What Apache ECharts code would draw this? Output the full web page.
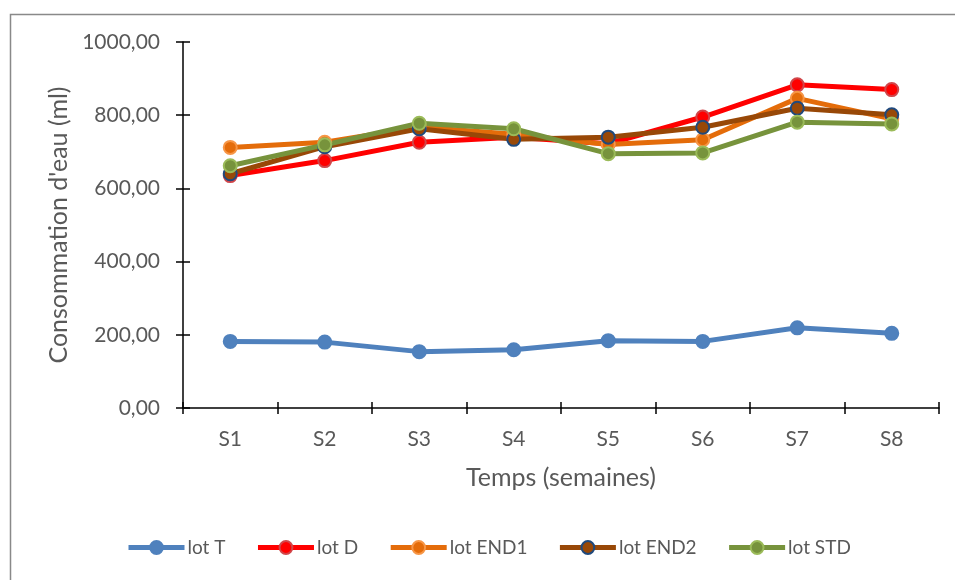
<!DOCTYPE html>
<html>
<head>
<meta charset="utf-8">
<script src="https://cdn.jsdelivr.net/npm/echarts@6/dist/echarts.min.js"></script>
<style>html,body{margin:0;padding:0;background:#fff}#c{width:955px;height:580px}</style>
</head>
<body>
<div id="c"></div>
<script>
var categories = ['S1','S2','S3','S4','S5','S6','S7','S8'];
var lotT    = [182, 180, 154, 159, 184, 182, 219, 204];
var lotD    = [635, 676, 726, 740, 722, 795, 883, 870];
var lotEND1 = [712, 726, 768, 748, 720, 733, 846, 790];
var lotEND2 = [640, 714, 763, 734, 740, 767, 819, 801];
var lotSTD  = [662, 719, 778, 763, 695, 697, 781, 776];
var yTicks  = [0, 200, 400, 600, 800, 1000];

var FONT = 'Lato';
var chart = echarts.init(document.getElementById('c'), null, {renderer: 'canvas'});

function mk(name, data, line, fill, border) {
  return {
    name: name, type: 'line', data: data, xAxisIndex: 0, yAxisIndex: 0,
    symbol: 'circle', symbolSize: 13,
    lineStyle: {color: line, width: 5},
    itemStyle: {color: fill, borderColor: border, borderWidth: 2},
    emphasis: {disabled: true},
    animation: false, z: 2
  };
}

var grid = {left: 183, right: 16, top: 42, bottom: 172};
var labelStyle = {color: '#595959', fontFamily: FONT, fontSize: 21};

chart.setOption({
  backgroundColor: '#fff',
  animation: false,
  graphic: [{
    type: 'rect', left: 8, top: 12,
    shape: {width: 970, height: 600},
    style: {fill: 'none', stroke: '#898989', lineWidth: 1.5},
    silent: true, z: -1
  }],
  grid: grid,
  legend: {
    left: 126, top: 538, padding: 0,
    itemWidth: 56, itemHeight: 16, itemGap: 30,
    lineStyle: {width: 5},
    itemStyle: {borderWidth: 'inherit'},
    textStyle: {color: '#595959', fontFamily: FONT, fontSize: 19, padding: [0, 0, 0, -2]},
    data: ['lot T', 'lot D', 'lot END1', 'lot END2', 'lot STD']
  },
  xAxis: [{
    type: 'category', data: categories, boundaryGap: true,
    name: 'Temps (semaines)', nameLocation: 'middle', nameGap: 57,
    nameTextStyle: {color: '#595959', fontFamily: FONT, fontSize: 25},
    axisLine: {lineStyle: {color: '#000', width: 1.5}},
    axisTick: {show: true, length: 6, lineStyle: {color: '#000', width: 1.5}},
    axisLabel: Object.assign({margin: 21}, labelStyle),
    splitLine: {show: false}
  }, {
    type: 'category', data: categories, boundaryGap: true, position: 'bottom',
    axisLine: {show: false},
    axisTick: {show: true, inside: true, length: 6, lineStyle: {color: '#000', width: 1.5}},
    axisLabel: {show: false}, splitLine: {show: false}
  }],
  yAxis: [{
    type: 'value', min: 0, max: 1000, interval: 200,
    name: "Consommation d'eau (ml)", nameLocation: 'middle', nameGap: 110,
    nameTextStyle: {color: '#595959', fontFamily: FONT, fontSize: 25},
    axisLine: {show: true, lineStyle: {color: '#000', width: 1.5}},
    axisTick: {show: true, length: 7, lineStyle: {color: '#000', width: 1.5}},
    axisLabel: Object.assign({margin: 23, formatter: function (v) {
      return yTicks.indexOf(v) >= 0 ? v.toFixed(2).replace('.', ',') : '';
    }}, labelStyle),
    splitLine: {show: false}
  }, {
    type: 'value', min: 0, max: 1000, interval: 200, position: 'left',
    axisLine: {show: false},
    axisTick: {show: true, inside: true, length: 7, lineStyle: {color: '#000', width: 1.5}},
    axisLabel: {show: false}, splitLine: {show: false}
  }],
  series: [
    mk('lot T', lotT, '#4F81BD', '#4F81BD', '#4F81BD'),
    mk('lot D', lotD, '#FF0000', '#FF0000', '#D0464A'),
    mk('lot END1', lotEND1, '#E46C0A', '#E46C0A', '#F79646'),
    mk('lot END2', lotEND2, '#984807', '#984807', '#1F497D'),
    mk('lot STD', lotSTD, '#77933C', '#77933C', '#9BBB59')
  ]
});
</script>
</body>
</html>
